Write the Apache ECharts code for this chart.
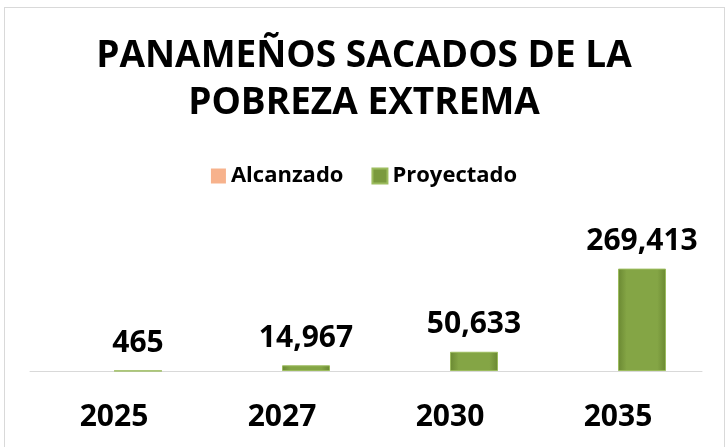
<!DOCTYPE html>
<html><head><meta charset="utf-8">
<script src="https://cdn.jsdelivr.net/npm/echarts@6/dist/echarts.min.js"></script>
<style>
html,body{margin:0;padding:0;background:#fff;}
#frame{position:absolute;left:4px;top:7px;width:719px;height:460px;border:1px solid #d9d9d9;}
#chart{position:absolute;left:0;top:0;width:728px;height:447px;}
</style></head>
<body>
<div id="frame"></div>
<div id="chart"></div>
<script>
const titleText = 'PANAMEÑOS SACADOS DE LA\nPOBREZA EXTREMA';
const categories = ['2025', '2027', '2030', '2035'];
const seriesNames = ['Alcanzado', 'Proyectado'];
const alcanzado = [null, null, null, null];
const proyectado = [465, 14967, 50633, 269413];

const FONT = 'Open Sans';
const chart = echarts.init(document.getElementById('chart'), null, {renderer: 'canvas'});
const greenBar = new echarts.graphic.LinearGradient(0, 0, 1, 0, [
  {offset: 0, color: '#6a8832'},
  {offset: 0.18, color: '#84a545'},
  {offset: 0.82, color: '#84a545'},
  {offset: 1, color: '#6a8832'}
]);
chart.setOption({
  animation: false,
  backgroundColor: 'transparent',
  title: {
    text: titleText,
    left: 'center',
    top: 28,
    textStyle: {fontFamily: FONT, fontSize: 37, fontWeight: 'bold', color: '#000', lineHeight: 47}
  },
  legend: {
    data: [
      {name: seriesNames[0], itemStyle: {color: '#f7b28c'}},
      {name: seriesNames[1], itemStyle: {color: '#7a9a3e'}}
    ],
    left: 'center',
    top: 160,
    icon: 'rect',
    itemWidth: 15,
    itemHeight: 15,
    itemGap: 28,
    textStyle: {fontFamily: FONT, fontSize: 22, fontWeight: 'bold', color: '#000'}
  },
  grid: {left: 30, right: 26, top: 257, bottom: 76, containLabel: false},
  xAxis: {
    type: 'category',
    data: categories,
    axisLine: {show: true, lineStyle: {color: '#d9d9d9', width: 1}},
    axisTick: {show: false},
    axisLabel: {fontFamily: FONT, fontSize: 30, fontWeight: 'bold', color: '#000', margin: 31}
  },
  yAxis: {
    type: 'value',
    min: 0,
    max: 300000,
    show: false,
    splitLine: {show: false}
  },
  series: [
    {
      name: seriesNames[0],
      type: 'bar',
      data: alcanzado,
      barWidth: 48,
      barGap: '0%',
      itemStyle: {color: '#f7b28c'}
    },
    {
      name: seriesNames[1],
      type: 'bar',
      data: proyectado,
      barWidth: 48,
      barGap: '0%',
      itemStyle: {color: greenBar, borderColor: '#9cbc5e', borderWidth: 1},
      label: {
        show: true,
        position: 'top',
        distance: 12,
        fontFamily: FONT,
        fontSize: 30,
        fontWeight: 'bold',
        color: '#000',
        formatter: p => Number(p.value).toLocaleString('en-US')
      }
    }
  ]
});
</script>
</body></html>
